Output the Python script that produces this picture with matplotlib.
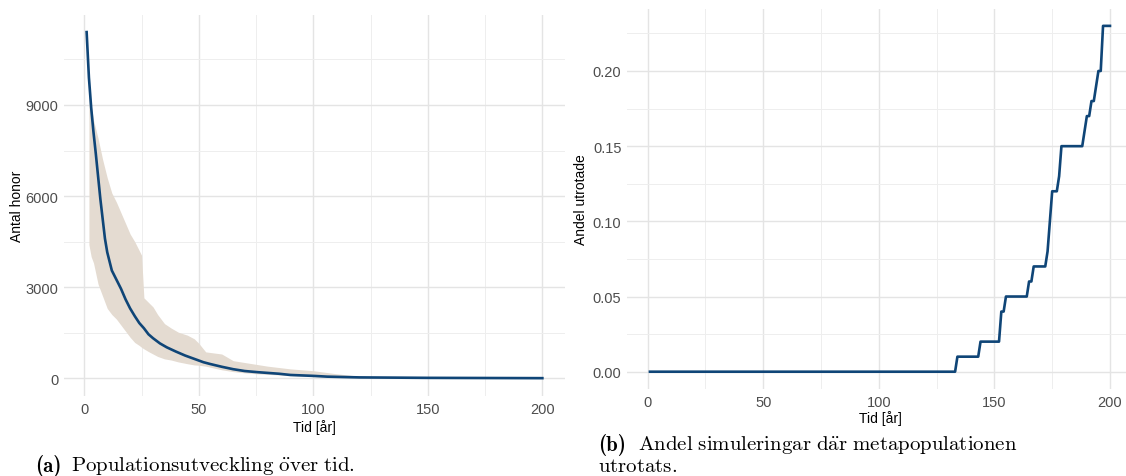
import matplotlib
matplotlib.use("Agg")
import matplotlib.pyplot as plt
from matplotlib.ticker import FixedLocator

# ---- Data: panel (a) mean population ----
mean_years = [1, 2, 3, 4, 5, 7, 9, 10, 12, 14, 16, 18, 20, 22, 24, 26, 28, 30, 33, 36,
              40, 44, 48, 52, 55, 60, 65, 70, 76, 85, 90, 100, 106, 120, 150, 200]
mean_vals = [11400, 9900, 8900, 8100, 7400, 5900, 4600, 4150, 3550, 3250, 2950, 2600, 2300,
             2050, 1820, 1650, 1450, 1320, 1150, 1020, 880, 750, 640, 530, 470, 380, 300,
             240, 200, 150, 110, 80, 55, 30, 15, 5]

# ---- Data: panel (a) ribbon ----
band_years = [2, 3, 4, 6, 8, 10, 12, 14, 16, 18, 20, 22, 24, 25, 26, 28, 30, 32, 35, 38,
              41, 45, 48, 50, 53, 57, 60, 65, 70, 75, 80, 90, 100, 110, 120, 130, 150, 200]
band_upper = [9700, 9000, 8500, 7900, 7200, 6600, 6100, 5800, 5450, 5100, 4750, 4500, 4200,
              4050, 2650, 2500, 2350, 2100, 1800, 1650, 1520, 1420, 1300, 1150, 870, 830,
              800, 580, 520, 460, 400, 310, 250, 150, 70, 30, 10, 0]
band_lower = [4400, 4000, 3800, 3100, 2700, 2300, 2100, 1950, 1750, 1550, 1350, 1180, 1080,
              1020, 970, 880, 800, 720, 640, 600, 540, 480, 440, 430, 400, 330, 280, 220,
              180, 150, 130, 90, 55, 30, 10, 5, 0, 0]

# ---- Data: panel (b) share of extinct simulations ----
ext_years = [1, 133, 134, 143, 144, 152, 153, 154, 155, 164, 165, 166, 167, 172, 173, 175,
             177, 178, 179, 188, 190, 191, 192, 193, 195, 196, 197, 200]
ext_vals = [0.00, 0.00, 0.01, 0.01, 0.02, 0.02, 0.04, 0.04, 0.05, 0.05, 0.06, 0.06, 0.07,
            0.07, 0.08, 0.12, 0.12, 0.13, 0.15, 0.15, 0.17, 0.17, 0.18, 0.18, 0.20, 0.20,
            0.23, 0.23]

xticks = [0, 50, 100, 150, 200]
yticks_a = [0, 3000, 6000, 9000]
yticks_b = [0.00, 0.05, 0.10, 0.15, 0.20]

label_a = "(a)"
label_b = "(b)"
caption_a = r"$\mathrm{Populationsutveckling\ \ddot{o}ver\ tid.}$"
caption_b1 = r"$\mathrm{Andel\ simuleringar\ d\ddot{a}r\ metapopulationen}$"
caption_b2 = r"$\mathrm{utrotats.}$"

plt.rcParams["mathtext.fontset"] = "cm"

LINE = "#0F4577"
BAND = "#E4DBD1"
GRID = "#E4E4E4"
GRID_MINOR = "#EEEEEE"
TICKC = "#4D4D4D"
SANS = "Liberation Sans"

fig = plt.figure(figsize=(11.26, 4.77), dpi=100)


def style(ax):
    for s in ax.spines.values():
        s.set_visible(False)
    ax.grid(True, which="major", color=GRID, linewidth=1.0)
    ax.grid(True, which="minor", color=GRID_MINOR, linewidth=0.7)
    ax.set_axisbelow(True)
    ax.tick_params(which="both", length=0, labelsize=10.5, labelcolor=TICKC, pad=4)
    for lab in ax.get_xticklabels() + ax.get_yticklabels():
        lab.set_fontfamily(SANS)


# Panel (a)
ax1 = fig.add_axes([0.0567, 0.1673, 0.4452, 0.7992])
ax1.fill_between(band_years, band_lower, band_upper, color=BAND, linewidth=0)
ax1.plot(mean_years, mean_vals, color=LINE, linewidth=1.9)
ax1.set_xlim(-8.95, 209.95)
ax1.set_ylim(-589, 11963)
ax1.set_xticks(xticks)
ax1.set_yticks(yticks_a)
ax1.xaxis.set_minor_locator(FixedLocator([25, 75, 125, 175]))
ax1.yaxis.set_minor_locator(FixedLocator([1500, 4500, 7500, 10500]))
style(ax1)
ax1.set_xlabel("Tid [år]", fontsize=10, fontfamily=SANS, labelpad=2)
ax1.set_ylabel("Antal honor", fontsize=10, fontfamily=SANS, labelpad=1)

# Panel (b)
ax2 = fig.add_axes([0.5568, 0.1824, 0.4494, 0.7975])
ax2.plot(ext_years, ext_vals, color=LINE, linewidth=1.9)
ax2.set_xlim(-8.95, 209.95)
ax2.set_ylim(-0.0115, 0.2415)
ax2.set_xticks(xticks)
ax2.set_yticks(yticks_b)
ax2.set_yticklabels([f"{v:.2f}" for v in yticks_b])
ax2.xaxis.set_minor_locator(FixedLocator([25, 75, 125, 175]))
ax2.yaxis.set_minor_locator(FixedLocator([0.025, 0.075, 0.125, 0.175, 0.225]))
style(ax2)
ax2.set_xlabel("Tid [år]", fontsize=10, fontfamily=SANS, labelpad=1)
ax2.set_ylabel("Andel utrotade", fontsize=10, fontfamily=SANS, labelpad=3)

# Captions
CAP = 15
fig.text(35 / 1126, 1 - 466 / 477, label_a, fontsize=CAP, fontfamily="cmb10", va="center", ha="left")
fig.text(71 / 1126, 1 - 466 / 477, caption_a, fontsize=CAP, va="center", ha="left")
fig.text(598 / 1126, 1 - 445 / 477, label_b, fontsize=CAP, fontfamily="cmb10", va="center", ha="left")
fig.text(638 / 1126, 1 - 445 / 477, caption_b1, fontsize=CAP, va="center", ha="left")
fig.text(598 / 1126, 1 - 466 / 477, caption_b2, fontsize=CAP, va="center", ha="left")

fig.savefig("out.png", dpi=100)
